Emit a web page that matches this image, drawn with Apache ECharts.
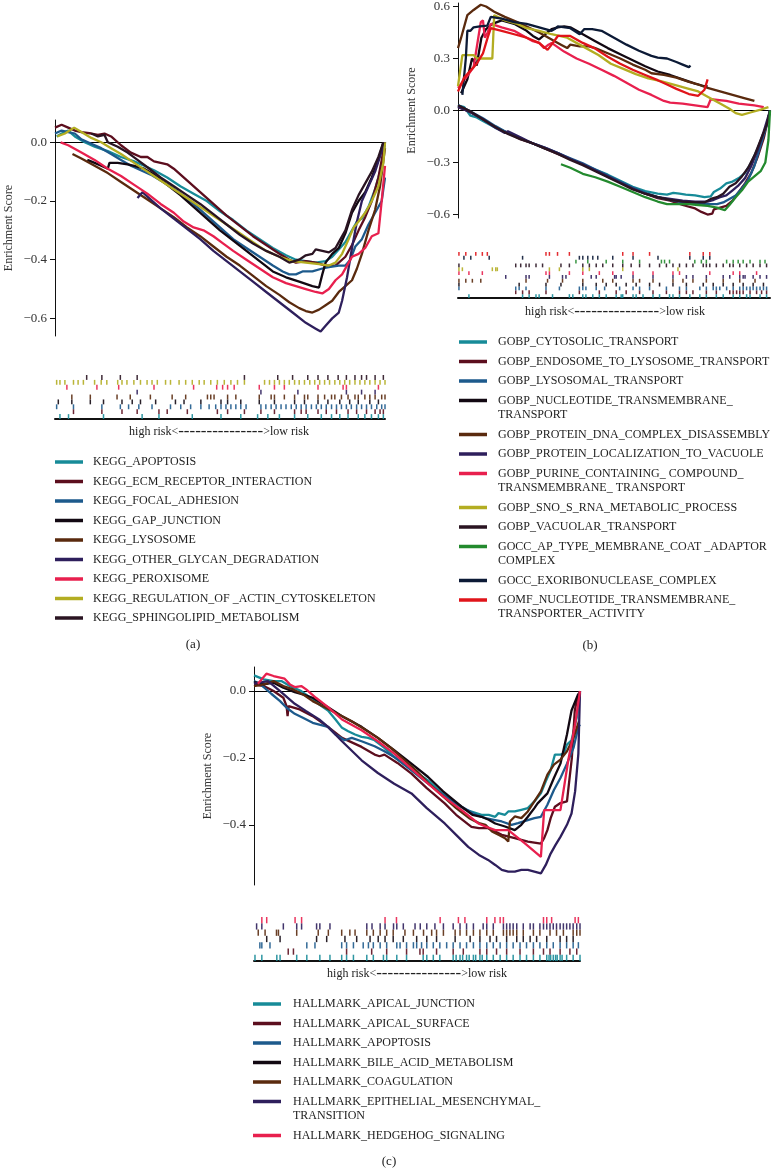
<!DOCTYPE html>
<html><head><meta charset="utf-8">
<script src="https://cdn.jsdelivr.net/npm/echarts@6/dist/echarts.min.js"></script>
<style>html,body{margin:0;padding:0;background:#fff}#c{width:772px;height:1175px}</style>
</head><body><div id="c"></div>
<script>
// ---------- Y tick labels ----------
const A_TICKS = [-0.6, -0.4, -0.2, 0.0];
const B_TICKS = [-0.6, -0.3, 0.0, 0.3, 0.6];
const C_TICKS = [-0.4, -0.2, 0.0];

// ---------- Panel (a) : KEGG ----------
const A_NAMES = ['KEGG_APOPTOSIS','KEGG_ECM_RECEPTOR_INTERACTION','KEGG_FOCAL_ADHESION','KEGG_GAP_JUNCTION','KEGG_LYSOSOME','KEGG_OTHER_GLYCAN_DEGRADATION','KEGG_PEROXISOME','KEGG_REGULATION_OF _ACTIN_CYTOSKELETON','KEGG_SPHINGOLIPID_METABOLISM'];
const A_COLORS = ['#178b98','#5c0e1e','#1d5a8c','#120812','#5a2a0e','#2e1f5c','#e8204e','#b3ad22','#2a1422'];

const A_APOPTOSIS = [[0.5,0.02],[2,0.03],[4,0.04],[6,0.02],[9,0.0],[12,-0.015],[16,-0.03],[20,-0.05],[24,-0.065],[27,-0.08],[30,-0.095],[34,-0.12],[38,-0.15],[42,-0.175],[46,-0.2],[50,-0.235],[54,-0.265],[58,-0.3],[62,-0.33],[66,-0.36],[70,-0.385],[73,-0.4],[76,-0.405],[79,-0.41],[82,-0.405],[84,-0.39],[86,-0.365],[88,-0.34],[90,-0.3],[91.5,-0.27],[93,-0.26],[95,-0.22],[97,-0.16],[99,-0.08],[100,0.0]];
const A_ECM = [[0,0.05],[2,0.06],[4,0.05],[6,0.04],[8,0.035],[11,0.03],[13,0.025],[15,0.03],[17,0.02],[20,-0.01],[23,-0.035],[26,-0.05],[28,-0.05],[30,-0.065],[32,-0.07],[34,-0.075],[36,-0.09],[40,-0.13],[44,-0.17],[48,-0.21],[52,-0.25],[56,-0.285],[60,-0.32],[64,-0.35],[68,-0.38],[71,-0.4],[73,-0.41],[76,-0.405],[79,-0.41],[82,-0.42],[85,-0.42],[88,-0.39],[90,-0.35],[92,-0.3],[94,-0.255],[96,-0.2],[98,-0.12],[99,-0.06],[100,0.0]];
const A_FOCAL = [[0,0.03],[2,0.04],[4,0.035],[6,0.03],[8,0.01],[11,-0.005],[14,-0.02],[17,-0.04],[20,-0.06],[23,-0.08],[26,-0.095],[29,-0.11],[32,-0.13],[35,-0.15],[38,-0.175],[42,-0.21],[46,-0.25],[50,-0.29],[54,-0.33],[58,-0.36],[62,-0.39],[66,-0.42],[69,-0.44],[71,-0.45],[73,-0.45],[75,-0.44],[78,-0.44],[81,-0.43],[83,-0.425],[86,-0.42],[88,-0.42],[89.5,-0.4],[91,-0.355],[93,-0.33],[95,-0.28],[97,-0.24],[99,-0.2],[100,-0.12]];
const A_GAP = [[9.8,-0.06],[12,-0.07],[14,-0.08],[16,-0.09],[16.5,-0.07],[19,-0.07],[22,-0.075],[24,-0.08],[27,-0.09],[30,-0.11],[34,-0.145],[38,-0.18],[42,-0.22],[46,-0.26],[50,-0.3],[54,-0.335],[58,-0.37],[62,-0.405],[66,-0.44],[70,-0.46],[74,-0.475],[78,-0.49],[80,-0.495],[81,-0.45],[82,-0.41],[84,-0.38],[86,-0.36],[88,-0.31],[90,-0.24],[92,-0.2],[94,-0.17],[96,-0.12],[98,-0.06],[99.5,0.0]];
const A_LYSOSOME = [[5.3,-0.04],[8,-0.055],[12,-0.08],[16,-0.105],[20,-0.135],[24,-0.165],[28,-0.195],[32,-0.225],[36,-0.255],[40,-0.29],[44,-0.32],[48,-0.355],[52,-0.39],[56,-0.42],[60,-0.455],[64,-0.49],[68,-0.52],[71,-0.545],[74,-0.565],[76,-0.575],[78,-0.58],[80,-0.57],[82,-0.555],[84,-0.54],[86,-0.51],[88,-0.49],[90,-0.47],[91.5,-0.43],[93,-0.38],[95,-0.3],[97,-0.23],[98.5,-0.15],[100,-0.02]];
const A_GLYCAN = [[25,-0.19],[26.5,-0.17],[28,-0.185],[32,-0.225],[36,-0.26],[40,-0.295],[44,-0.33],[48,-0.37],[52,-0.405],[56,-0.44],[60,-0.475],[64,-0.51],[68,-0.545],[72,-0.58],[76,-0.615],[79,-0.635],[80.5,-0.645],[82,-0.625],[84,-0.6],[86,-0.58],[87,-0.54],[88.5,-0.46],[90,-0.36],[91.5,-0.27],[93,-0.2],[95,-0.15],[97,-0.1],[99,-0.03],[99.8,0.0]];
const A_PEROXISOME = [[1.7,0.0],[4,-0.01],[8,-0.035],[12,-0.06],[16,-0.09],[20,-0.115],[24,-0.145],[28,-0.175],[32,-0.21],[36,-0.24],[39,-0.27],[42,-0.29],[45,-0.3],[48,-0.32],[51,-0.345],[54,-0.37],[58,-0.4],[62,-0.43],[66,-0.46],[70,-0.48],[73,-0.49],[76,-0.5],[79,-0.51],[81,-0.515],[83,-0.5],[85,-0.47],[87,-0.45],[89,-0.41],[90,-0.39],[92,-0.38],[94,-0.36],[96,-0.32],[98,-0.31],[99,-0.2],[100,-0.08]];
const A_ACTIN = [[0.7,0.02],[3,0.03],[5.8,0.05],[8,0.035],[11,0.015],[14,0.0],[17,-0.02],[20,-0.04],[24,-0.07],[28,-0.1],[32,-0.13],[36,-0.16],[40,-0.19],[44,-0.22],[48,-0.25],[52,-0.28],[56,-0.31],[60,-0.34],[64,-0.37],[68,-0.39],[72,-0.405],[76,-0.41],[80,-0.415],[83,-0.42],[85,-0.41],[87,-0.38],[89,-0.33],[90.5,-0.29],[92,-0.27],[94,-0.24],[96,-0.2],[98,-0.15],[99.5,-0.07],[100,0.0]];
const A_SPHINGO = [[11,0.03],[13,0.02],[15,0.025],[16,0.0],[19,-0.015],[22,-0.035],[25,-0.06],[28,-0.085],[32,-0.12],[36,-0.15],[40,-0.18],[44,-0.21],[48,-0.245],[52,-0.28],[56,-0.315],[60,-0.345],[64,-0.37],[68,-0.39],[71,-0.41],[74,-0.4],[76,-0.385],[78,-0.38],[79,-0.365],[81,-0.37],[83,-0.375],[85,-0.36],[86,-0.34],[88,-0.3],[90,-0.23],[92,-0.18],[94,-0.14],[96,-0.1],[98,-0.05],[99.5,0.0]];

const A_RUG_APOPTOSIS = [1.5,4.1,14.7,26.4,31.5,41.6,50.3,56.3,61.4,64.5,68,72.6,76.6,80.7,83.8,86.3,88.8,91.9,93.9,95.9,98,99.5];
const A_RUG_ECM = [5.6,14.2,20.3,24.9,31.5,34,40.1,49.2,52.3,57.4,62.4,66.5,72.6,74.6,76.1,79.7,82.2,85.3,88.8,91.4,94.4,97,98.5,99.5];
const A_RUG_FOCAL = [0.5,5.6,14.2,19.8,22.3,25.4,29.4,35,38.1,41.1,44.2,46.7,48.7,50.3,51.8,53.3,54.8,56.3,57.9,62.4,63.9,65.5,67,68.5,70,71.6,73.1,74.6,76.1,77.7,79.2,80.7,82.2,83.8,85.3,86.8,88.3,89.8,91.4,92.9,94.4,95.9,97.5,99,100];
const A_RUG_GAP = [1,5.1,10.7,14.7,20.3,23.4,25.9,30.5,36.5,39.1,44.2,50.3,52.3,56.3,61.9,66.5,72.6,75.6,79.7,82.7,86.3,89.3,91.9,95.4,98];
const A_RUG_LYSOSOME = [5.1,10.7,18.8,22.8,28.9,35.5,39.6,46.2,47.2,48.2,52.3,54.8,61.9,65.5,66.5,69.5,72.6,75.6,76.6,79.7,81.7,83.8,84.8,86.8,88.8,90.9,91.9,93.9,95.4,97,99,100];
const A_RUG_GLYCAN = [24.9,62.4,73.6,88.3,92.9,97];
const A_RUG_PEROXISOME = [3.6,12.7,19.3,30,42,49,50.8,52.3,54.3,61.9,66.5,69.5,79.7,87.3,88.3,98];
const A_RUG_ACTIN = [0.5,1.5,3,5.6,7,8.6,12,14,15.7,19,20.3,21.8,23.9,25.9,27.9,29.4,31,33.5,35,37.6,39.6,41.6,43.7,45.2,47.2,49.2,51.3,53.3,55.3,57.4,63.5,65,66.5,68,69.5,71,72.6,74,75.6,77.2,78.7,80.2,81.7,83.2,84.8,86.3,87.8,89.3,90.9,92.4,93.9,95.4,97,98.5,100];
const A_RUG_SPHINGO = [9.6,14.2,19.8,24.9,57.4,67.5,72,76.6,79.7,82.7,85.8,88.3,90.9,92.9,94.4,97,99.5];

// ---------- Panel (b) : GO ----------
const B_NAMES = ['GOBP_CYTOSOLIC_TRANSPORT','GOBP_ENDOSOME_TO_LYSOSOME_TRANSPORT','GOBP_LYSOSOMAL_TRANSPORT','GOBP_NUCLEOTIDE_TRANSMEMBRANE_\nTRANSPORT','GOBP_PROTEIN_DNA_COMPLEX_DISASSEMBLY','GOBP_PROTEIN_LOCALIZATION_TO_VACUOLE','GOBP_PURINE_CONTAINING_ COMPOUND_\nTRANSMEMBRANE_ TRANSPORT','GOBP_SNO_S_RNA_METABOLIC_PROCESS','GOBP_VACUOLAR_TRANSPORT','GOCC_AP_TYPE_MEMBRANE_COAT _ADAPTOR\nCOMPLEX','GOCC_EXORIBONUCLEASE_COMPLEX','GOMF_NUCLEOTIDE_TRANSMEMBRANE_\nTRANSPORTER_ACTIVITY'];
const B_COLORS = ['#178b98','#5c0e1e','#1d5a8c','#120812','#5a2a0e','#2e1f5c','#e8204e','#b3ad22','#2a1422','#238a2e','#0c1a36','#e0141a'];

const B_CYTOSOLIC = [[0,0.03],[2,0.02],[4,-0.03],[6,-0.04],[8,-0.06],[12,-0.1],[16,-0.13],[20,-0.16],[24,-0.19],[28,-0.22],[32,-0.245],[36,-0.28],[40,-0.31],[44,-0.34],[48,-0.37],[52,-0.405],[56,-0.44],[60,-0.465],[64,-0.48],[67,-0.485],[69,-0.475],[71,-0.48],[73,-0.485],[76,-0.49],[79,-0.5],[81,-0.495],[82,-0.47],[84,-0.45],[86,-0.42],[88,-0.41],[90,-0.39],[92,-0.36],[94,-0.3],[96,-0.22],[98,-0.13],[99.5,-0.05],[100,0.0]];
const B_ENDOSOME = [[0,0.02],[4,-0.01],[8,-0.05],[12,-0.095],[16,-0.13],[20,-0.165],[24,-0.19],[28,-0.22],[32,-0.25],[36,-0.28],[40,-0.31],[44,-0.345],[48,-0.38],[52,-0.415],[56,-0.45],[60,-0.48],[64,-0.505],[68,-0.52],[72,-0.545],[76,-0.565],[78,-0.585],[80,-0.6],[81.5,-0.595],[82,-0.57],[84,-0.56],[86,-0.55],[88,-0.52],[90,-0.47],[92,-0.42],[94,-0.36],[96,-0.27],[98,-0.16],[100,0.0]];
const B_LYSOSOMAL = [[0,0.03],[4,-0.005],[8,-0.045],[12,-0.09],[16,-0.13],[20,-0.16],[24,-0.19],[28,-0.215],[32,-0.245],[36,-0.275],[40,-0.305],[44,-0.34],[48,-0.375],[52,-0.41],[56,-0.445],[60,-0.475],[64,-0.5],[68,-0.515],[72,-0.53],[76,-0.535],[80,-0.54],[83,-0.54],[85,-0.53],[87,-0.51],[89,-0.49],[91,-0.45],[93,-0.4],[95,-0.32],[97,-0.2],[99,-0.08],[100,0.0]];
const B_NUCLEO = [[1,0.1],[3,0.18],[4.5,0.3],[6,0.26],[7.5,0.42],[9,0.47],[11,0.5],[14,0.52],[18,0.5],[22,0.46],[24,0.43],[26,0.41],[28,0.44],[30,0.47],[32,0.48],[34,0.485],[36,0.48],[38,0.46],[40,0.44],[44,0.4],[48,0.36],[52,0.325],[56,0.29],[60,0.255],[64,0.225],[68,0.205],[72,0.18],[76,0.155],[79,0.14],[80,0.14]];
const B_DNA = [[0,0.36],[1,0.42],[3,0.55],[5,0.58],[7.3,0.61],[9,0.6],[11.6,0.57],[15,0.54],[19,0.51],[22,0.485],[26,0.45],[30,0.41],[33,0.38],[35,0.36],[36,0.38],[39,0.37],[42,0.37],[44,0.36],[48,0.33],[52,0.3],[56,0.265],[60,0.235],[62,0.215],[66,0.205],[70,0.19],[74,0.165],[77,0.15],[80,0.13],[84,0.11],[88,0.09],[92,0.07],[95,0.055]];
const B_VACUOLE = [[0,0.02],[4,-0.01],[8,-0.05],[12,-0.1],[15,-0.13],[16,-0.12],[20,-0.155],[24,-0.19],[28,-0.215],[32,-0.245],[36,-0.28],[40,-0.31],[44,-0.345],[48,-0.38],[52,-0.415],[56,-0.45],[60,-0.48],[64,-0.5],[68,-0.51],[72,-0.52],[76,-0.525],[80,-0.525],[82,-0.515],[84,-0.5],[86,-0.49],[88,-0.46],[90,-0.43],[92,-0.39],[94,-0.32],[96,-0.23],[98,-0.12],[100,0.0]];
const B_PURINE = [[0,0.13],[3,0.2],[5,0.25],[6.5,0.42],[7.3,0.51],[8,0.52],[8.6,0.42],[9.5,0.45],[10.5,0.5],[14,0.48],[18,0.46],[22,0.42],[24,0.4],[26,0.39],[27.6,0.36],[29,0.38],[30,0.39],[34,0.34],[38,0.3],[42,0.27],[46,0.235],[50,0.2],[54,0.16],[58,0.12],[62,0.09],[66,0.055],[68,0.045],[72,0.04],[76,0.03],[80,0.02],[81,0.065],[86,0.055],[90,0.04],[95,0.03],[98,0.02]];
const B_SNO = [[0,0.14],[1.4,0.32],[3,0.32],[5,0.32],[6.2,0.3],[9,0.3],[11,0.3],[11.6,0.55],[15,0.52],[19,0.5],[22,0.475],[26,0.46],[30,0.44],[35,0.42],[40,0.37],[45,0.32],[49,0.27],[53,0.24],[57,0.21],[61,0.185],[65,0.17],[70,0.145],[74,0.125],[77,0.11],[80,0.08],[84,0.04],[87,0.01],[89,-0.015],[91,-0.025],[94,-0.01],[97,0.005],[99.5,0.02]];
const B_VACUOLAR = [[0,0.03],[4,-0.005],[8,-0.05],[12,-0.095],[16,-0.135],[20,-0.165],[24,-0.19],[28,-0.22],[32,-0.25],[36,-0.285],[40,-0.315],[44,-0.35],[48,-0.385],[52,-0.42],[56,-0.455],[60,-0.48],[64,-0.5],[68,-0.515],[72,-0.525],[76,-0.53],[79,-0.53],[81,-0.51],[83,-0.5],[85,-0.48],[87,-0.44],[89,-0.42],[91,-0.38],[93,-0.33],[95,-0.26],[97,-0.17],[99,-0.08],[100,0.0]];
const B_APCOAT = [[33,-0.31],[36,-0.33],[40,-0.365],[44,-0.385],[48,-0.41],[52,-0.44],[56,-0.47],[60,-0.5],[64,-0.525],[67,-0.54],[70,-0.54],[74,-0.54],[77,-0.545],[80,-0.55],[83,-0.56],[85.5,-0.575],[87,-0.545],[89,-0.5],[91,-0.46],[93,-0.41],[95,-0.38],[97,-0.35],[98.5,-0.3],[99.5,-0.17],[100,0.0]];
const B_EXORIBO = [[1.4,0.09],[2.5,0.3],[3,0.46],[4,0.46],[5,0.48],[7,0.485],[9.4,0.49],[10.5,0.54],[14,0.53],[18,0.51],[22,0.5],[26,0.48],[30,0.46],[31,0.47],[32,0.485],[36,0.475],[39,0.44],[40.5,0.47],[43,0.47],[46,0.46],[50,0.42],[54,0.38],[58,0.345],[62,0.315],[64,0.305],[67,0.3],[70,0.28],[72,0.265],[74,0.25],[74.5,0.26]];
const B_GOMF = [[0,0.11],[2,0.19],[4,0.23],[6,0.27],[8,0.33],[9.5,0.42],[10.5,0.475],[14,0.46],[18,0.44],[22,0.42],[26,0.39],[28.7,0.35],[30,0.38],[32,0.43],[34,0.43],[36,0.43],[40,0.39],[43.7,0.36],[48,0.31],[52,0.27],[56,0.235],[60,0.205],[64,0.175],[67,0.15],[70,0.125],[74,0.095],[77,0.085],[79,0.12],[80,0.18]];

const B_RUG_CYTOSOLIC = [3.5,20.7,22.8,25,26,30.3,35.7,36.8,40,41,43.2,45.3,47.5,50.7,52.3,52.8,56.1,57.1,59.3,62.5,64.6,67.8,68.9,71,74.3,77.5,79.6,82.8,85,88.2,90.3,92.5,93.6,96.8,98.9];
const B_RUG_ENDOSOME = [18.5,20.7,22.8,28.2,38.9,45.3,50.7,53.9,58.2,62.5,66.8,71,73.2,75.3,79.6,82.8,87.1,88.2,89.3,90.3,91.4,93.6,95.7,97.3,98.9];
const B_RUG_LYSOSOMAL = [0.3,18.5,19.6,21.8,28.2,32.5,38.9,40,41,44.3,47,51.8,56.1,58.2,61.4,66.8,71,73.2,77.5,79.6,81.8,82.8,83.9,86.1,88.2,90.3,91.4,92.5,93.6,94.6,95.7,96.8,97.9,98.9];
const B_RUG_NUCLEO = [0.3,19.6,28.2,33,40,44.3,47.5,50.7,53.9,57.1,61.4,64.6,68.9,73.2,78.6,81.8,85,88.2,91.4,94.6,97.9];
const B_RUG_DNA = [0.3,2.5,4.6,7.3,21.8,28.7,33.5,40,46.4,49.6,56.1,58.2,62.5,68.9,72.1,75.3,79.6,85,90.3,95.2];
const B_RUG_VACUOLE = [15.3,21.8,22.8,29.3,33.5,34.6,42.7,44.3,50.2,50.7,52.3,56.1,62.5,68.9,73.2,75.3,79.6,85,87.1,90.3,91.4,92,94.6,96.8,98.9];
const B_RUG_PURINE = [0.3,3.5,7.8,28.2,29.3,35.7,40,45.3,49.6,56.1,62.5,68.9,71,80.7,88.2,90.3,95.7];
const B_RUG_SNO = [0.3,1.4,11,12.1,12.6,29.3,32.5,40,42.1,52.8,70.5];
const B_RUG_VACUOLAR = [0.3,18.5,20.1,21.8,22.8,25,27.1,33,35.7,40,42.1,44.3,46.4,49.6,52.8,55.5,58.2,61.4,64.6,66.8,68.9,71,73.2,75.3,78.6,79.6,80.7,82.8,85,87.1,88.2,90.3,92.5,94.6,96.8,98.9];
const B_RUG_APCOAT = [37.8,41.6,47.5,52.8,58.2,65.2,66.2,67.8,75.9,78,79.6,86.1,88.2,89.8,91.4,93.6,96.8,98.4];
const B_RUG_EXORIBO = [1.9,4.1,10,20.7,38.9,40,41.6,43.2,44.8,49.6,56.1,64.1,74.3,78.6,80.7];
const B_RUG_GOMF = [0.3,2.5,5.7,7.8,9.4,28.2,29.3,31.9,35.7,52.8,56.1,61.4,74.3,78.6,80.7];

// ---------- Panel (c) : HALLMARK ----------
const C_NAMES = ['HALLMARK_APICAL_JUNCTION','HALLMARK_APICAL_SURFACE','HALLMARK_APOPTOSIS','HALLMARK_BILE_ACID_METABOLISM','HALLMARK_COAGULATION','HALLMARK_EPITHELIAL_MESENCHYMAL_\nTRANSITION','HALLMARK_HEDGEHOG_SIGNALING'];
const C_COLORS = ['#178b98','#5c0e1e','#1d5a8c','#120812','#5a2a0e','#2e1f5c','#e8204e'];

const C_JUNCTION = [[0,0.047],[3,0.035],[6,0.03],[8.4,0.03],[11,0.015],[14.5,0.0],[18,-0.025],[20,-0.04],[22.7,-0.058],[25,-0.085],[27,-0.11],[28.9,-0.12],[31,-0.13],[33,-0.137],[35,-0.14],[37,-0.147],[40,-0.17],[43,-0.197],[47,-0.225],[50,-0.245],[53.4,-0.267],[57,-0.3],[61.6,-0.336],[65,-0.355],[69.8,-0.37],[72,-0.37],[74,-0.376],[75,-0.365],[77,-0.37],[78,-0.36],[80,-0.36],[82,-0.355],[84,-0.35],[86,-0.33],[88,-0.306],[89.5,-0.27],[91,-0.237],[92.3,-0.19],[94,-0.19],[95,-0.187],[96,-0.16],[97.4,-0.147],[99,-0.08],[100,0.0]];
const C_SURFACE = [[0,0.02],[3,0.015],[6,0.0],[9,-0.02],[10,-0.045],[10.3,-0.075],[10.6,-0.045],[14,-0.055],[18,-0.075],[22.7,-0.107],[27,-0.14],[33,-0.167],[37,-0.19],[38.5,-0.195],[40,-0.19],[44,-0.215],[48.3,-0.247],[53,-0.29],[58.5,-0.336],[62,-0.37],[66.7,-0.406],[69,-0.41],[71.8,-0.41],[74,-0.42],[76,-0.43],[80,-0.44],[84,-0.45],[88,-0.456],[89,-0.44],[90,-0.416],[91,-0.38],[92.3,-0.346],[94,-0.335],[96,-0.33],[97.5,-0.2],[98.4,-0.058],[99.2,-0.02],[100,0.0]];
const C_APOPTOSIS = [[0,0.03],[2,0.02],[5.3,-0.008],[8,-0.03],[10,-0.05],[12.5,-0.068],[15,-0.08],[18,-0.095],[22.7,-0.107],[25,-0.13],[27.8,-0.147],[30,-0.14],[33,-0.15],[37,-0.165],[40,-0.18],[43,-0.197],[48,-0.235],[53.4,-0.277],[58,-0.31],[63.7,-0.346],[68,-0.37],[71,-0.38],[74,-0.386],[76,-0.39],[79,-0.4],[81,-0.395],[84,-0.386],[86,-0.38],[88,-0.376],[90,-0.34],[92,-0.296],[94,-0.26],[96,-0.217],[98,-0.17],[99.5,-0.107],[100,-0.1]];
const C_BILE = [[0,0.027],[3,0.02],[6,0.025],[9,0.01],[12.5,-0.003],[15,-0.01],[18,-0.02],[22.7,-0.048],[27,-0.075],[33,-0.107],[38,-0.14],[43,-0.177],[48,-0.215],[53.4,-0.257],[58,-0.3],[63.7,-0.346],[67,-0.37],[69.8,-0.376],[72,-0.385],[74,-0.396],[77,-0.405],[80,-0.416],[82,-0.4],[84,-0.376],[86,-0.35],[87,-0.336],[90,-0.306],[92,-0.26],[94,-0.217],[96,-0.13],[97.4,-0.058],[99.5,-0.008]];
const C_COAG = [[0,0.015],[3,0.02],[6,0.03],[9,0.015],[12,0.005],[15,-0.01],[18,-0.03],[22,-0.05],[26,-0.07],[30,-0.09],[34,-0.115],[38,-0.14],[42,-0.17],[46,-0.205],[50,-0.24],[54,-0.28],[58,-0.315],[62,-0.35],[66,-0.38],[69,-0.395],[71,-0.4],[73,-0.42],[75,-0.43],[77,-0.44],[78,-0.45],[78.5,-0.39],[80,-0.375],[82,-0.38],[84,-0.36],[86,-0.33],[88,-0.3],[90,-0.25],[92,-0.22],[94,-0.205],[96,-0.18],[98,-0.14],[99.7,-0.09]];
const C_EMT = [[0,0.022],[4.3,0.03],[8,0.0],[12.5,-0.038],[16,-0.06],[20,-0.085],[22.7,-0.107],[27,-0.15],[33,-0.207],[38,-0.245],[43,-0.277],[48.3,-0.306],[53,-0.35],[58.5,-0.396],[62,-0.43],[65.7,-0.466],[69,-0.49],[71.8,-0.505],[74,-0.52],[76,-0.535],[78,-0.54],[80,-0.54],[82,-0.535],[84,-0.535],[86,-0.54],[88,-0.545],[89.5,-0.52],[91,-0.486],[92.5,-0.46],[94,-0.436],[96,-0.4],[97.4,-0.366],[98.5,-0.3],[99.5,-0.187],[100,0.0]];
const C_HEDGEHOG = [[1.2,0.022],[3.8,0.052],[6,0.045],[9.4,0.037],[11,0.02],[12.5,0.012],[14.5,0.015],[16,0.005],[19,-0.02],[22.7,-0.048],[27,-0.085],[33,-0.117],[38,-0.15],[43,-0.187],[48,-0.23],[53.4,-0.277],[58,-0.315],[63.7,-0.356],[68.8,-0.396],[71,-0.405],[74,-0.416],[78,-0.416],[83,-0.455],[88,-0.496],[89,-0.356],[91,-0.356],[94,-0.356],[96.4,-0.207],[98.5,-0.1],[100,0.0]];

const C_RUG_JUNCTION = [0.3,2.4,7,8,13.1,16.2,20.2,23.3,26.9,28.4,30.5,34.6,36.6,39.7,40.7,43.8,46.8,51.9,53,55,57,61.1,62,63.2,64,65.2,66,67.3,68,69.3,70,71.4,73.4,75.5,77.5,79.5,81.6,83.6,85.7,87.7,89.8,90.5,91,91.8,92.5,93,93.9,94.5,95.9,97.9,100];
const C_RUG_SURFACE = [10.5,12.1,28.4,36.1,40.7,46.8,50.9,51.9,56,61.1,64.2,69.3,71.4,74.4,77.5,81.6,85.7,88.8,90.8,93.9,96.9,99];
const C_RUG_APOPTOSIS = [1.8,2.4,4.9,16.2,18.7,26.9,28.4,30.5,33.5,35.1,36.6,38.7,40.7,43.8,44.8,46.8,48.9,49.9,51.4,53,55,57,59.1,61.1,63.2,65.2,67.3,69.3,71.4,73.4,75.5,77.5,79.5,81.6,83.6,85.7,87.7,89.8,91.8,93.9,95.9,97.9,99.5];
const C_RUG_BILE = [3.9,8,19.2,22.3,27.9,31.5,35.6,38.1,40.2,42.7,45.8,49.9,53,56,61.7,66.3,69.3,72.4,74.4,77.5,80.6,82.6,84.7,86.7,89.8,93.9,95.9,97.9];
const C_RUG_COAG = [1.3,3.4,6.9,7.5,13.1,19.7,22.8,26.9,29.4,31,34.6,36.6,38.7,40.7,42.7,46.3,48.9,52,54.5,56,58.1,61.7,63.2,65.2,67.3,69.3,71.4,73.4,76.5,77.5,78.5,79.5,80.6,82.6,85.7,87.7,90.8,92.8,94.9,97.9,99,100];
const C_RUG_EMT = [0.8,2.4,9,13.1,14.6,19.2,20.2,23.3,34.6,36.2,38.7,40.2,42.8,43.8,45.8,49.4,51,53,55.5,58.1,61.1,63.2,65.2,67.3,70.3,71.4,73.4,76.5,77.5,78.5,79.5,80.6,82.6,84.7,85.7,87.7,88.8,89.8,90.8,91.8,92.8,93.9,94.9,95.9,96.9,97.9,99,100];
const C_RUG_HEDGEHOG = [2.4,3.9,12.6,14.6,40.2,43.7,57.1,62.7,64.7,71.4,73.9,75.5,76.5,88.8,89.8,91.3,98.5,99.5];

// ---------- assemble ----------
const A_CURVES = [A_APOPTOSIS,A_ECM,A_FOCAL,A_GAP,A_LYSOSOME,A_GLYCAN,A_PEROXISOME,A_ACTIN,A_SPHINGO];
const A_RUGS = [A_RUG_APOPTOSIS,A_RUG_ECM,A_RUG_FOCAL,A_RUG_GAP,A_RUG_LYSOSOME,A_RUG_GLYCAN,A_RUG_PEROXISOME,A_RUG_ACTIN,A_RUG_SPHINGO];
const B_CURVES = [B_CYTOSOLIC,B_ENDOSOME,B_LYSOSOMAL,B_NUCLEO,B_DNA,B_VACUOLE,B_PURINE,B_SNO,B_VACUOLAR,B_APCOAT,B_EXORIBO,B_GOMF];
const B_RUGS = [B_RUG_CYTOSOLIC,B_RUG_ENDOSOME,B_RUG_LYSOSOMAL,B_RUG_NUCLEO,B_RUG_DNA,B_RUG_VACUOLE,B_RUG_PURINE,B_RUG_SNO,B_RUG_VACUOLAR,B_RUG_APCOAT,B_RUG_EXORIBO,B_RUG_GOMF];
const C_CURVES = [C_JUNCTION,C_SURFACE,C_APOPTOSIS,C_BILE,C_COAG,C_EMT,C_HEDGEHOG];
const C_RUGS = [C_RUG_JUNCTION,C_RUG_SURFACE,C_RUG_APOPTOSIS,C_RUG_BILE,C_RUG_COAG,C_RUG_EMT,C_RUG_HEDGEHOG];

const FONT = '"Liberation Serif", "DejaVu Serif", serif';
const fmt = v => (v < 0 ? '\u2212' : '') + Math.abs(v).toFixed(1);

const panels = [
  {curves:A_CURVES, rugs:A_RUGS, names:A_NAMES, colors:A_COLORS, ticks:A_TICKS,
   main:{left:55, top:120, width:330, height:216, min:-0.66, max:0.076},
   rug:{left:55, top:375, width:330, height:44},
   risk:{x:219, y:432}, leg:{x:55, textX:93, y:462}, label:{text:'(a)', x:193, y:645}},
  {curves:B_CURVES, rugs:B_RUGS, names:B_NAMES, colors:B_COLORS, ticks:B_TICKS,
   main:{left:458, top:2, width:312, height:216, min:-0.62, max:0.62},
   rug:{left:458, top:252, width:312, height:46},
   risk:{x:615, y:312}, leg:{x:459, textX:498, y:342}, label:{text:'(b)', x:590, y:646}},
  {curves:C_CURVES, rugs:C_RUGS, names:C_NAMES, colors:C_COLORS, ticks:C_TICKS,
   main:{left:254, top:667, width:326, height:218, min:-0.58, max:0.072},
   rug:{left:254, top:917, width:326, height:44},
   risk:{x:417, y:974}, leg:{x:253, textX:293, y:1004}, label:{text:'(c)', x:389, y:1162}}
];

const grid = [], xAxis = [], yAxis = [], series = [], graphic = [];
panels.forEach((p, pi) => {
  const gi = grid.length;
  grid.push({left:p.main.left, top:p.main.top, width:p.main.width, height:p.main.height});
  grid.push({left:p.rug.left, top:p.rug.top, width:p.rug.width, height:p.rug.height});
  xAxis.push({gridIndex:gi, type:'value', min:0, max:100, show:false});
  xAxis.push({gridIndex:gi+1, type:'value', min:0, max:100, axisLine:{show:true, onZero:false, lineStyle:{color:'#111', width:2}},
              axisTick:{show:false}, axisLabel:{show:false}, splitLine:{show:false}});
  yAxis.push({gridIndex:gi, type:'value', min:p.main.min, max:p.main.max,
    name:'Enrichment Score', nameLocation:'middle', nameGap:40,
    nameTextStyle:{fontFamily:FONT, fontSize:12, color:'#333'},
    axisLine:{show:true, onZero:false, lineStyle:{color:'#111', width:1}},
    axisTick:{show:true, length:5, customValues:p.ticks, lineStyle:{color:'#111'}},
    axisLabel:{customValues:p.ticks, formatter:fmt, fontFamily:FONT, fontSize:13, color:'#333', margin:8},
    splitLine:{show:false}});
  yAxis.push({gridIndex:gi+1, type:'category', data:p.names.map((n,i)=>i), show:false, boundaryGap:true});
  const xi = gi, yi = gi;
  p.curves.forEach((c, i) => {
    const s = {type:'line', name:p.names[i], xAxisIndex:xi, yAxisIndex:yi, data:c, showSymbol:false, symbol:'none',
      lineStyle:{color:p.colors[i], width:2.3}, itemStyle:{color:p.colors[i]}, silent:true, z:3};
    if (i === 0) s.markLine = {silent:true, symbol:'none', label:{show:false}, lineStyle:{color:'#000', width:1, type:'solid'}, data:[{yAxis:0}], z:2};
    series.push(s);
  });
  const rowH = p.rug.height / p.rugs.length;
  p.rugs.forEach((r, i) => {
    series.push({type:'scatter', xAxisIndex:xi+1, yAxisIndex:yi+1, data:r.map(x => [x, i]),
      symbol:'rect', symbolSize:[1.5, rowH], itemStyle:{color:p.colors[i], opacity:0.9}, silent:true});
  });
  // risk caption
  graphic.push({type:'text', x:p.risk.x, y:p.risk.y, silent:true,
    style:{text:'high risk<{d|---------------}>low risk', rich:{d:{fontSize:17, fontFamily:FONT, fill:'#222'}},
      fontFamily:FONT, fontSize:12, fill:'#222', align:'center', verticalAlign:'middle'}});
  // legend
  let y = p.leg.y;
  p.names.forEach((n, i) => {
    graphic.push({type:'rect', shape:{x:p.leg.x, y:y-1.75, width:28, height:3.5}, style:{fill:p.colors[i]}, silent:true});
    graphic.push({type:'text', x:p.leg.textX, y:y-7, silent:true,
      style:{text:n, fontFamily:FONT, fontSize:12, lineHeight:14, fill:'#222', align:'left', verticalAlign:'top'}});
    const lines = n.split('\n').length;
    y += 19.5 + (lines - 1) * 14.5;
  });
  graphic.push({type:'text', x:p.label.x, y:p.label.y, silent:true,
    style:{text:p.label.text, fontFamily:FONT, fontSize:13, fill:'#222', align:'center', verticalAlign:'middle'}});
});

const chart = echarts.init(document.getElementById('c'), null, {renderer:'canvas', width:772, height:1175});
chart.setOption({animation:false, backgroundColor:'#fff', grid, xAxis, yAxis, series, graphic});
</script></body></html>
